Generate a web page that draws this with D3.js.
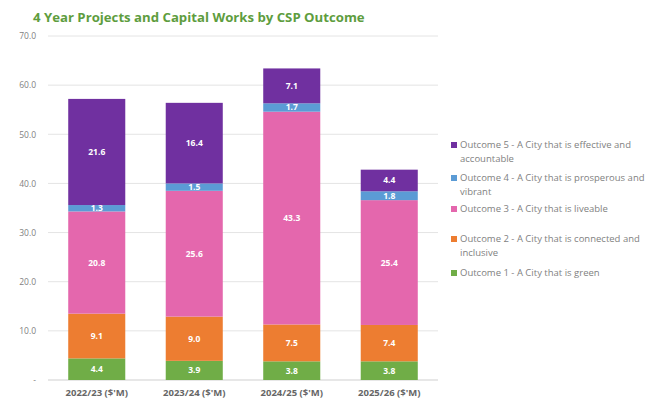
<!DOCTYPE html>
<html>
<head>
<meta charset="utf-8">
<script src="https://cdn.jsdelivr.net/npm/d3@7"></script>
<style>
	body { margin: 0; background: #fff; }
	svg { display: block; font-family: "Open Sans", "Liberation Sans", sans-serif; }
</style>
</head>
<body>
<svg id="chart"></svg>
<script>
'use strict';

var years = ['2022/23 ($\'M)', '2023/24 ($\'M)', '2024/25 ($\'M)', '2025/26 ($\'M)'];
var outcomeNames = [
	'Outcome 1 - A City that is green',
	'Outcome 2 - A City that is connected and inclusive',
	'Outcome 3 - A City that is liveable',
	'Outcome 4 - A City that is prosperous and vibrant',
	'Outcome 5 - A City that is effective and accountable'
];
var outcome1 = [4.4, 3.9, 3.8, 3.8];
var outcome2 = [9.1, 9.0, 7.5, 7.4];
var outcome3 = [20.8, 25.6, 43.3, 25.4];
var outcome4 = [1.3, 1.5, 1.7, 1.8];
var outcome5 = [21.6, 16.4, 7.1, 4.4];
var yTicks = [0, 10, 20, 30, 40, 50, 60, 70];

var WIDTH = 650,
	HEIGHT = 401;

var colors = ['#70ad47', '#ed7d31', '#e467ad', '#5b9bd5', '#7030a0'];

var svg = d3.select('#chart')
	.attr('width', WIDTH)
	.attr('height', HEIGHT);

var series = [outcome1, outcome2, outcome3, outcome4, outcome5];
var rows = years.map(function (y, i) {
	var r = { year: y };
	series.forEach(function (s, k) { r['o' + k] = s[i]; });
	return r;
});
var keys = series.map(function (s, k) { return 'o' + k; });
var stacked = d3.stack().keys(keys)(rows);

var x = d3.scaleBand()
	.domain(years)
	.range([48, 438])
	.paddingInner(0.415)
	.paddingOuter(0.2075);

var y = d3.scaleLinear()
	.domain([0, 70])
	.range([380, 36]);

// title
svg.append('text')
	.attr('x', 33)
	.attr('y', 22)
	.style('font-size', '13.2px')
	.style('font-weight', 'bold')
	.style('fill', '#5e9d3e')
	.text('4 Year Projects and Capital Works by CSP Outcome');

// gridlines
svg.append('g')
	.selectAll('line')
	.data(yTicks)
	.enter()
	.append('line')
	.attr('x1', 48)
	.attr('x2', 438)
	.attr('y1', function (d) { return y(d); })
	.attr('y2', function (d) { return y(d); })
	.style('stroke', function (d) { return d === 0 ? '#cfcfcf' : '#e4e4e4'; })
	.style('stroke-width', 1);

// y axis labels
var yAxis = d3.axisLeft(y)
	.tickValues(yTicks)
	.tickSize(0)
	.tickPadding(0)
	.tickFormat(function (d) { return d === 0 ? '-' : d3.format('.1f')(d); });

svg.append('g')
	.attr('transform', 'translate(36,0)')
	.call(yAxis)
	.call(function (g) { g.select('.domain').remove(); })
	.selectAll('text')
	.style('font-size', '8.5px')
	.style('font-family', '"Open Sans", sans-serif')
	.style('fill', '#7f7f7f');

// bars
var layers = svg.append('g')
	.selectAll('g')
	.data(stacked)
	.enter()
	.append('g')
	.style('fill', function (d, i) { return colors[i]; });

layers.selectAll('rect')
	.data(function (d) { return d; })
	.enter()
	.append('rect')
	.attr('x', function (d) { return x(d.data.year); })
	.attr('width', x.bandwidth())
	.attr('y', function (d) { return y(d[1]); })
	.attr('height', function (d) { return y(d[0]) - y(d[1]); });

// value labels
layers.selectAll('text')
	.data(function (d) { return d; })
	.enter()
	.append('text')
	.attr('x', function (d) { return x(d.data.year) + x.bandwidth() / 2; })
	.attr('y', function (d) { return (y(d[0]) + y(d[1])) / 2; })
	.attr('dy', '0.35em')
	.style('text-anchor', 'middle')
	.style('font-size', '8.5px')
	.style('font-weight', 'bold')
	.style('fill', '#ffffff')
	.text(function (d) { return d3.format('.1f')(d[1] - d[0]); });

// x axis labels
var xAxis = d3.axisBottom(x).tickSize(0).tickPadding(0);
svg.append('g')
	.attr('transform', 'translate(0,389)')
	.call(xAxis)
	.call(function (g) { g.select('.domain').remove(); })
	.selectAll('text')
	.attr('dy', '0.71em')
	.style('font-size', '9.5px')
	.style('font-weight', 'bold')
	.style('font-family', '"Open Sans", sans-serif')
	.style('fill', '#666666');

// legend
var legendItems = [
	{ k: 4, lines: ['Outcome 5 - A City that is effective and', 'accountable'], y: 145 },
	{ k: 3, lines: ['Outcome 4 - A City that is prosperous and', 'vibrant'], y: 178 },
	{ k: 2, lines: ['Outcome 3 - A City that is liveable'], y: 209 },
	{ k: 1, lines: ['Outcome 2 - A City that is connected and', 'inclusive'], y: 239 },
	{ k: 0, lines: ['Outcome 1 - A City that is green'], y: 273 }
];

var legend = svg.append('g')
	.selectAll('g')
	.data(legendItems)
	.enter()
	.append('g')
	.attr('transform', function (d) { return 'translate(451,' + d.y + ')'; });

legend.append('rect')
	.attr('x', 0)
	.attr('y', -3)
	.attr('width', 6)
	.attr('height', 6)
	.style('fill', function (d) { return colors[d.k]; });

legend.append('text')
	.attr('x', 9)
	.attr('y', 0)
	.style('font-size', '9.5px')
	.style('fill', '#7f7f7f')
	.selectAll('tspan')
	.data(function (d) { return d.lines; })
	.enter()
	.append('tspan')
	.attr('x', 9)
	.attr('dy', function (d, i) { return i === 0 ? '0.35em' : '14px'; })
	.text(function (d) { return d; });
</script>
</body>
</html>
